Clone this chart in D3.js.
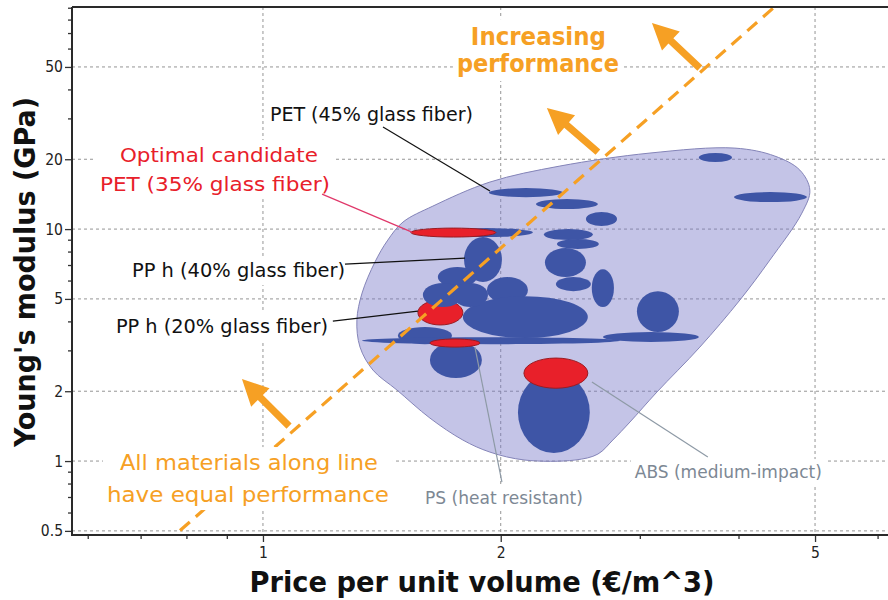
<!DOCTYPE html>
<html><head><meta charset="utf-8">
<script src="https://cdn.jsdelivr.net/npm/d3@7"></script>
<style>body{margin:0;background:#fff}svg{display:block}</style>
</head><body><svg id="c" width="888" height="600"></svg>
<script>
// ---------------- DATA ----------------
const priceTicks = [1, 2, 5];
const priceMinorTicks = [0.6, 0.7, 0.8, 0.9, 3, 4, 6];
const modulusTicks = [0.5, 1, 2, 5, 10, 20, 50];
const modulusMinorTicks = [0.6, 0.7, 0.8, 0.9, 3, 4, 6, 7, 8, 9, 30, 40, 60, 70, 80, 90];

// material bubbles in drawing order: price range (€/m^3) and modulus range (GPa)
const materialNames = ["M1","M2","M3","M4","M5","M6","PP h (40% glass fiber)","M8","M9","M10","M11","M12","M13","M14","M15","M16","M17","M18","M19","M20","M21",
  "PP h (20% glass fiber)","M22","M23","PET (35% glass fiber)","PS (heat resistant)","ABS (medium-impact)"];
const priceLow  = [1.932,2.216,2.564,1.675,2.268,2.356,1.797,2.275,2.349,2.608,1.665,1.921,1.791,1.482,1.335,2.694,2.975,1.627,2.103,3.564,3.947, 1.571,1.594,1.740, 1.539,1.627,2.140];
const priceHigh = [2.398,2.655,2.807,2.197,2.616,2.662,2.007,2.564,2.601,2.782,1.866,2.165,2.578,1.735,2.831,3.564,3.362,1.893,2.593,3.924,4.883, 1.791,1.791,1.927, 1.972,1.882,2.578];
const modulusLow  = [13.73,12.20,10.30,9.24,8.97,8.20,5.91,6.21,5.40,4.61,5.62,4.80,3.39,3.19,3.19,3.26,3.60,2.28,1.083,19.45,13.07, 3.86,4.61,4.61, 9.24,3.10,2.06];
const modulusHigh = [15.02,13.47,11.84,10.10,10.00,9.06,9.24,8.28,6.21,6.72,6.86,6.21,5.14,3.78,3.42,3.60,5.40,3.26,2.418,21.27,14.44, 4.94,5.85,5.85, 10.10,3.36,2.78];
const highlighted = [0,0,0,0,0,0,0,0,0,0,0,0,0,0,0,0,0,0,0,0,0, 1,0,0, 1,1,1];

// envelope of the polymer family
const envelopePrice   = [1.504,1.641,1.938,2.376,3.090,3.958,4.447,4.783,4.925,4.812,4.383,4.016,3.574,3.153,2.915,2.773,2.655,2.483,2.146,1.938,1.791,1.627,1.478,1.378,1.327,1.315,1.335,1.386,1.439];
const envelopeModulus = [10.72,12.56,15.95,18.69,21.27,22.34,20.64,17.96,14.73,11.72,7.352,4.943,3.100,1.983,1.473,1.232,1.072,1.010,1.010,1.093,1.232,1.532,2.023,2.467,3.100,4.053,5.298,7.208,8.966];

// equal-performance guide line (slope 3)
const guidePrice = [0.75, 4.6];
const guideModulus = [0.437, 100.7];

// arrows: tail -> tip
const arrowTailPrice = [3.574, 2.655, 1.079];
const arrowTailModulus = [49.43, 21.47, 1.415];
const arrowTipPrice = [3.108, 2.288, 0.9406];
const arrowTipModulus = [77.25, 33.23, 2.256];

// text lines
const labelLines = ["Increasing","performance","PET (45% glass fiber)","Optimal candidate","PET (35% glass fiber)","PP h (40% glass fiber)","PP h (20% glass fiber)","All materials along line","have equal performance","ABS (medium-impact)","PS (heat resistant)"];
const labelPrice   = [2.232,2.229,1.372,0.8796,0.8694,0.9311,0.8873,0.9600,0.9572,3.883,2.019];
const labelModulus = [62.10,47.51,29.21,19.45,14.58,6.210,3.562,0.9145,0.6657,0.8448,0.6528];
const labelGroup   = [0,0,1,2,2,3,4,5,5,6,7];

// leader lines: label end -> bubble
const leaderFromPrice = [1.419,1.188,1.270,1.226,1.855,2.609];
const leaderFromModulus = [27.53,14.15,7.066,4.012,3.100,2.190];
const leaderToPrice = [1.938,1.544,1.802,1.571,2.007,3.658];
const leaderToModulus = [14.58,9.707,7.499,4.432,0.8118,1.040];

// ---------------- LAYOUT / STYLE ----------------
const W = 888, H = 600;
const L = 72, T = 7, R = 888, B = 535;
const ORANGE = "#f6a024", BLUE = "#3e55a6", RED = "#e8202a", GRAYTXT = "#7d8894";
const FONT = "'DejaVu Sans Condensed','DejaVu Sans',sans-serif";
const labelStyle = [
  {fill:ORANGE,size:25,weight:"bold",w:135},{fill:ORANGE,size:25,weight:"bold",w:162},
  {fill:"#111",size:19.5,weight:"normal",w:203},
  {fill:RED,size:20,weight:"normal",w:198},{fill:RED,size:20,weight:"normal",w:230},
  {fill:"#111",size:19.5,weight:"normal",w:213},{fill:"#111",size:19.5,weight:"normal",w:212},
  {fill:ORANGE,size:22,weight:"normal",w:258},{fill:ORANGE,size:22,weight:"normal",w:282},
  {fill:GRAYTXT,size:17,weight:"normal",w:187},{fill:GRAYTXT,size:17,weight:"normal",w:158}
];
const leaderColor = ["#111","#e0386a","#111","#111","#8e9aa6","#8e9aa6"];

const svg = d3.select("#c");
const x = d3.scaleLog().domain([0.5731, 6.185]).range([L, R]);
const y = d3.scaleLog().domain([0.48, 90.65]).range([B, T]);

svg.append("defs").append("clipPath").attr("id","plot")
  .append("rect").attr("x",L).attr("y",T).attr("width",R-L).attr("height",B-T);

// grid
const grid = svg.append("g").attr("stroke","#959595").attr("stroke-width",1).attr("stroke-dasharray","3,3");
grid.selectAll(".gx").data(priceTicks).join("line")
  .attr("x1",d=>x(d)).attr("x2",d=>x(d)).attr("y1",T).attr("y2",B);
grid.selectAll(".gy").data(modulusTicks).join("line")
  .attr("y1",d=>y(d)).attr("y2",d=>y(d)).attr("x1",L).attr("x2",R);

const plot = svg.append("g").attr("clip-path","url(#plot)");

// envelope
const env = envelopePrice.map((p,i)=>[x(p), y(envelopeModulus[i])]);
plot.append("path").attr("d", d3.line().curve(d3.curveCatmullRomClosed.alpha(0.5))(env))
  .attr("fill","rgba(118,118,200,0.43)").attr("stroke","#8484b8").attr("stroke-width",1);

// bubbles
const bubbles = materialNames.map((n,i)=>({n, pl:priceLow[i], ph:priceHigh[i], ml:modulusLow[i], mh:modulusHigh[i], h:highlighted[i]}));
plot.selectAll(".bub").data(bubbles).join("ellipse")
  .attr("cx",d=>(x(d.pl)+x(d.ph))/2).attr("cy",d=>(y(d.ml)+y(d.mh))/2)
  .attr("rx",d=>(x(d.ph)-x(d.pl))/2).attr("ry",d=>(y(d.ml)-y(d.mh))/2)
  .attr("fill",d=>d.h?RED:BLUE)
  .attr("stroke",d=>d.h?"#9a1b22":"none").attr("stroke-width",d=>d.h?1:0);

// guide line
plot.append("line")
  .attr("x1",x(guidePrice[0])).attr("y1",y(guideModulus[0]))
  .attr("x2",x(guidePrice[1])).attr("y2",y(guideModulus[1]))
  .attr("stroke",ORANGE).attr("stroke-width",3.2).attr("stroke-dasharray","13,8");

// arrows
function arrowPath(x0,y0,x1,y1){
  const dx=x1-x0, dy=y1-y0, len=Math.hypot(dx,dy), ux=dx/len, uy=dy/len, px=-uy, py=ux;
  const hl=26, hw=13, sw=3.6;
  const bx=x1-ux*hl, by=y1-uy*hl;
  const pts=[[x0+px*sw,y0+py*sw],[bx+px*sw,by+py*sw],[bx+px*hw,by+py*hw],[x1,y1],[bx-px*hw,by-py*hw],[bx-px*sw,by-py*sw],[x0-px*sw,y0-py*sw]];
  return "M"+pts.map(p=>p.join(",")).join("L")+"Z";
}
svg.append("g").selectAll("path").data(arrowTailPrice).join("path")
  .attr("d",(d,i)=>arrowPath(x(d),y(arrowTailModulus[i]),x(arrowTipPrice[i]),y(arrowTipModulus[i])))
  .attr("fill",ORANGE);

// labels (with white backgrounds)
const bgLayer = svg.append("g");
const leaderLayer = svg.append("g");
const textLayer = svg.append("g");
const texts = textLayer.selectAll("text").data(labelLines).join("text")
  .attr("x",(d,i)=>x(labelPrice[i])).attr("y",(d,i)=>y(labelModulus[i]))
  .attr("text-anchor","middle").attr("font-family",FONT)
  .attr("font-size",(d,i)=>labelStyle[i].size).attr("font-weight",(d,i)=>labelStyle[i].weight)
  .attr("fill",(d,i)=>labelStyle[i].fill)
  .attr("textLength",(d,i)=>labelStyle[i].w).attr("lengthAdjust","spacingAndGlyphs")
  .text(d=>d);
const boxes = {};
texts.each(function(d,i){
  const b=this.getBBox(), g=labelGroup[i];
  const bb={x0:b.x,y0:b.y,x1:b.x+b.width,y1:b.y+b.height};
  if(!boxes[g]) boxes[g]=bb; else { const o=boxes[g]; o.x0=Math.min(o.x0,bb.x0); o.y0=Math.min(o.y0,bb.y0); o.x1=Math.max(o.x1,bb.x1); o.y1=Math.max(o.y1,bb.y1);} 
});
bgLayer.selectAll("rect").data(Object.values(boxes)).join("rect")
  .attr("x",d=>d.x0-4).attr("y",d=>d.y0-3).attr("width",d=>d.x1-d.x0+8).attr("height",d=>d.y1-d.y0+6)
  .attr("fill","#fff");

leaderLayer.selectAll("line").data(leaderFromPrice).join("line")
  .attr("x1",d=>x(d)).attr("y1",(d,i)=>y(leaderFromModulus[i]))
  .attr("x2",(d,i)=>x(leaderToPrice[i])).attr("y2",(d,i)=>y(leaderToModulus[i]))
  .attr("stroke",(d,i)=>leaderColor[i]).attr("stroke-width",1.2);

// axes
svg.append("g").attr("transform",`translate(${L},0)`)
  .call(d3.axisLeft(y).tickValues(modulusTicks).tickFormat(d=>String(d)).tickSize(7).tickPadding(2));
svg.append("g").attr("transform",`translate(${L},0)`)
  .call(d3.axisLeft(y).tickValues(modulusMinorTicks).tickFormat("").tickSize(4));
svg.append("g").attr("transform",`translate(0,${B})`)
  .call(d3.axisBottom(x).tickValues(priceTicks).tickFormat(d=>String(d)).tickSize(7).tickPadding(5));
svg.append("g").attr("transform",`translate(0,${B})`)
  .call(d3.axisBottom(x).tickValues(priceMinorTicks).tickFormat("").tickSize(4));
svg.selectAll(".domain").remove();
svg.selectAll(".tick line").attr("stroke","#333").attr("stroke-width",1.3);
svg.selectAll(".tick text").attr("font-family",FONT).attr("font-size",15.5).attr("fill","#222");

// frame
svg.append("path").attr("d",`M${L},${T}H${R+2}M${L},${T}V${B}H${R+2}`)
  .attr("fill","none").attr("stroke","#2a2a2a").attr("stroke-width",2);

// axis titles
svg.append("text").attr("x",482).attr("y",592).attr("text-anchor","middle")
  .attr("font-family",FONT).attr("font-weight","bold").attr("font-size",29).attr("fill","#111")
  .attr("textLength",465).attr("lengthAdjust","spacingAndGlyphs")
  .text("Price per unit volume (€/m^3)");
svg.append("text").attr("transform","translate(35,272) rotate(-90)").attr("text-anchor","middle")
  .attr("font-family",FONT).attr("font-weight","bold").attr("font-size",29).attr("fill","#111")
  .attr("textLength",350).attr("lengthAdjust","spacingAndGlyphs")
  .text("Young's modulus (GPa)");
</script></body></html>
